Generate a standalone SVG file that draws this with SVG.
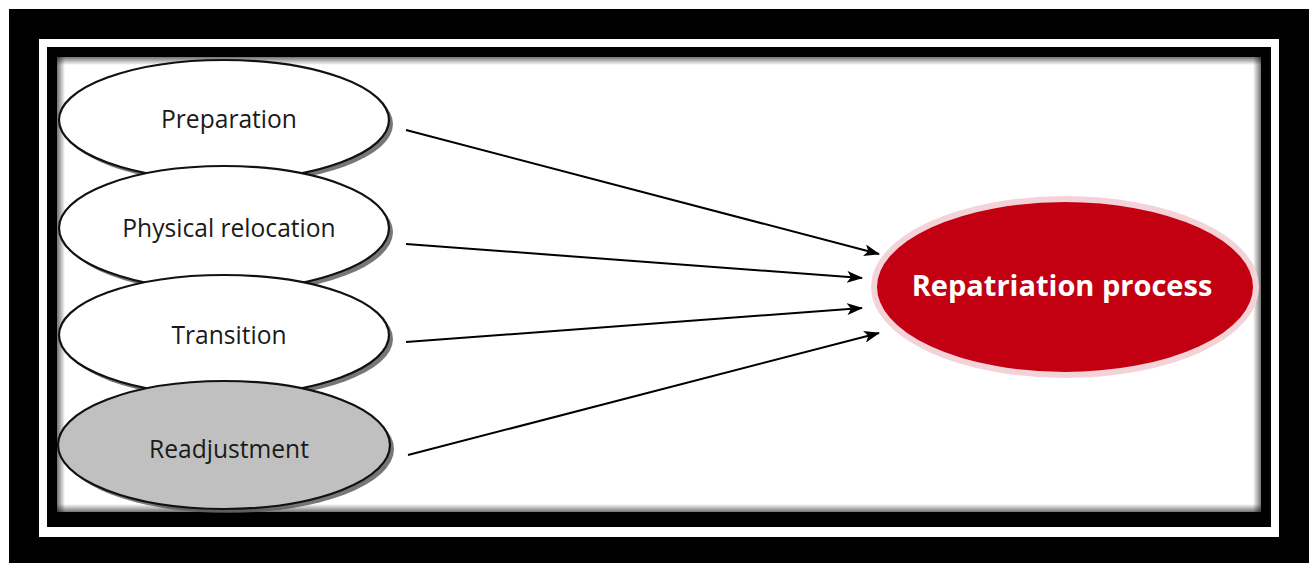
<svg xmlns="http://www.w3.org/2000/svg" width="1309" height="563" viewBox="0 0 1309 563">
<defs>
<style>
.lbl{font-family:"Open Sans","Noto Sans",sans-serif;font-size:24.6px;fill:#1a1a1a;text-anchor:middle}
.src{stroke:#111;stroke-width:2.2}
.shd{fill:#555;opacity:0.8}
.con{stroke:#000;stroke-width:2;fill:none}
</style>
<marker id="ah" viewBox="0 0 16 12" refX="15" refY="6" markerWidth="16" markerHeight="12" markerUnits="userSpaceOnUse" orient="auto">
<path d="M0,0 L16,6 L0,12 L4,6 Z" fill="#000"/>
</marker>
<linearGradient id="gt" x1="0" y1="0" x2="0" y2="1"><stop offset="0" stop-color="#000" stop-opacity="0.55"/><stop offset="1" stop-color="#000" stop-opacity="0"/></linearGradient>
<linearGradient id="gb" x1="0" y1="1" x2="0" y2="0"><stop offset="0" stop-color="#000" stop-opacity="0.55"/><stop offset="1" stop-color="#000" stop-opacity="0"/></linearGradient>
<linearGradient id="gl" x1="0" y1="0" x2="1" y2="0"><stop offset="0" stop-color="#000" stop-opacity="0.55"/><stop offset="1" stop-color="#000" stop-opacity="0"/></linearGradient>
<linearGradient id="gr" x1="1" y1="0" x2="0" y2="0"><stop offset="0" stop-color="#000" stop-opacity="0.55"/><stop offset="1" stop-color="#000" stop-opacity="0"/></linearGradient>
</defs>
<g id="frame">
<rect x="0" y="0" width="1309" height="563" fill="#fff"/>
<rect x="9" y="9" width="1300" height="554" fill="#000"/>
<rect x="39" y="39" width="1240" height="498" fill="#fff"/>
<rect x="47" y="47" width="1224" height="480" fill="#000"/>
<rect x="57" y="57" width="1204" height="455" fill="#fff"/>
<rect x="57" y="57" width="1204" height="8" fill="url(#gt)"/>
<rect x="57" y="504" width="1204" height="8" fill="url(#gb)"/>
<rect x="57" y="57" width="8" height="455" fill="url(#gl)"/>
<rect x="1253" y="57" width="8" height="455" fill="url(#gr)"/>
</g>
<g id="n1">
<ellipse class="shd" cx="228" cy="124" rx="165" ry="60"/>
<ellipse class="src" cx="224" cy="120" rx="165" ry="60" fill="#fff"/>
<text class="lbl" x="229" y="128">Preparation</text>
</g>
<g id="n2">
<ellipse class="shd" cx="228" cy="232" rx="165" ry="62"/>
<ellipse class="src" cx="224" cy="228" rx="165" ry="62" fill="#fff"/>
<text class="lbl" x="229" y="237">Physical relocation</text>
</g>
<g id="n3">
<ellipse class="shd" cx="228" cy="339" rx="165" ry="60"/>
<ellipse class="src" cx="224" cy="335" rx="165" ry="60" fill="#fff"/>
<text class="lbl" x="229" y="344">Transition</text>
</g>
<g id="n4">
<ellipse class="shd" cx="228" cy="449" rx="166" ry="64"/>
<ellipse class="src" cx="224" cy="445" rx="166" ry="64" fill="#c0c0c0"/>
<text class="lbl" x="229" y="458">Readjustment</text>
</g>
<g id="target">
<ellipse cx="1065" cy="287" rx="191" ry="88" fill="#c20012" stroke="#f4d3d8" stroke-width="6"/>
<text x="1062" y="296" font-family="'Open Sans','Noto Sans',sans-serif" font-size="29" font-weight="bold" fill="#fff" text-anchor="middle">Repatriation process</text>
</g>
<g id="connectors">
<line class="con" x1="406" y1="130" x2="879" y2="254" marker-end="url(#ah)"/>
<line class="con" x1="406" y1="244" x2="862" y2="278" marker-end="url(#ah)"/>
<line class="con" x1="406" y1="342" x2="862" y2="308" marker-end="url(#ah)"/>
<line class="con" x1="408" y1="455" x2="879" y2="333" marker-end="url(#ah)"/>
</g>
</svg>
